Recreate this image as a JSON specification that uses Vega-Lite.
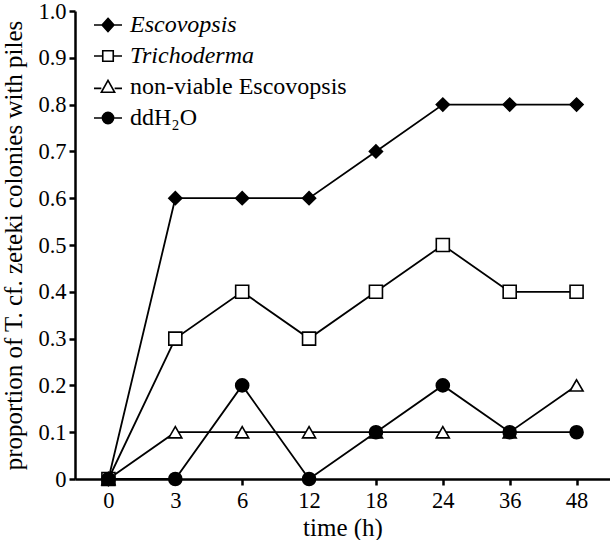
{
  "$schema": "https://vega.github.io/schema/vega-lite/v6.json",
  "width": 535,
  "height": 468,
  "autosize": {"type": "none"},
  "padding": {"left": 75, "top": 11, "right": 0, "bottom": 61},
  "background": "white",
  "config": {
    "view": {"stroke": null},
    "font": "Liberation Serif",
    "axis": {
      "grid": false,
      "domainColor": "black",
      "domainWidth": 2.5,
      "tickColor": "black",
      "tickWidth": 2.5,
      "tickSize": 6,
      "labelFont": "Liberation Serif",
      "labelFontSize": 22.5,
      "labelColor": "black",
      "titleFont": "Liberation Serif",
      "titleFontSize": 25,
      "titleFontWeight": "normal",
      "titleColor": "black"
    }
  },
  "data": {
    "values": [
      {"series": "Escovopsis", "time": "0", "value": 0},
      {"series": "Escovopsis", "time": "3", "value": 0.6},
      {"series": "Escovopsis", "time": "6", "value": 0.6},
      {"series": "Escovopsis", "time": "12", "value": 0.6},
      {"series": "Escovopsis", "time": "18", "value": 0.7},
      {"series": "Escovopsis", "time": "24", "value": 0.8},
      {"series": "Escovopsis", "time": "36", "value": 0.8},
      {"series": "Escovopsis", "time": "48", "value": 0.8},
      {"series": "Trichoderma", "time": "0", "value": 0},
      {"series": "Trichoderma", "time": "3", "value": 0.3},
      {"series": "Trichoderma", "time": "6", "value": 0.4},
      {"series": "Trichoderma", "time": "12", "value": 0.3},
      {"series": "Trichoderma", "time": "18", "value": 0.4},
      {"series": "Trichoderma", "time": "24", "value": 0.5},
      {"series": "Trichoderma", "time": "36", "value": 0.4},
      {"series": "Trichoderma", "time": "48", "value": 0.4},
      {"series": "non-viable Escovopsis", "time": "0", "value": 0},
      {"series": "non-viable Escovopsis", "time": "3", "value": 0.1},
      {"series": "non-viable Escovopsis", "time": "6", "value": 0.1},
      {"series": "non-viable Escovopsis", "time": "12", "value": 0.1},
      {"series": "non-viable Escovopsis", "time": "18", "value": 0.1},
      {"series": "non-viable Escovopsis", "time": "24", "value": 0.1},
      {"series": "non-viable Escovopsis", "time": "36", "value": 0.1},
      {"series": "non-viable Escovopsis", "time": "48", "value": 0.2},
      {"series": "ddH₂O", "time": "0", "value": 0},
      {"series": "ddH₂O", "time": "3", "value": 0},
      {"series": "ddH₂O", "time": "6", "value": 0.2},
      {"series": "ddH₂O", "time": "12", "value": 0},
      {"series": "ddH₂O", "time": "18", "value": 0.1},
      {"series": "ddH₂O", "time": "24", "value": 0.2},
      {"series": "ddH₂O", "time": "36", "value": 0.1},
      {"series": "ddH₂O", "time": "48", "value": 0.1}
    ]
  },
  "encoding": {
    "x": {
      "field": "time",
      "type": "ordinal",
      "sort": ["0", "3", "6", "12", "18", "24", "36", "48"],
      "scale": {"type": "point", "padding": 0.5},
      "axis": {"title": "time (h)", "labelAngle": 0, "labelPadding": 4, "titlePadding": 4}
    },
    "y": {
      "field": "value",
      "type": "quantitative",
      "scale": {"domain": [0, 1], "nice": false},
      "axis": {
        "title": "proportion of T. cf. zeteki colonies with piles",
        "values": [0, 0.1, 0.2, 0.3, 0.4, 0.5, 0.6, 0.7, 0.8, 0.9, 1.0],
        "labelExpr": "datum.value == 0 ? '0' : format(datum.value, '.1f')",
        "labelPadding": 3,
        "titlePadding": 11
      }
    }
  },
  "resolve": {"scale": {"shape": "independent"}, "legend": {"shape": "independent"}},
  "layer": [
    {
      "mark": {"type": "line", "color": "black", "strokeWidth": 1.8},
      "encoding": {"detail": {"field": "series"}}
    },
    {
      "mark": {"type": "point", "stroke": "black", "strokeWidth": 1.6, "opacity": 1, "filled": false, "size": 170},
      "encoding": {
        "shape": {
          "field": "series",
          "type": "nominal",
          "scale": {
            "domain": ["Escovopsis", "Trichoderma", "non-viable Escovopsis", "ddH₂O"],
            "range": ["diamond", "square", "triangle-up", "circle"]
          },
          "legend": null
        },
        "fill": {
          "field": "series",
          "type": "nominal",
          "scale": {
            "domain": ["Escovopsis", "Trichoderma", "non-viable Escovopsis", "ddH₂O"],
            "range": ["black", "white", "white", "black"]
          },
          "legend": null
        }
      }
    },
    {
      "mark": {"type": "point", "stroke": "black", "strokeWidth": 1.6, "opacity": 0, "filled": false, "size": 0},
      "encoding": {
        "shape": {
          "field": "series",
          "type": "nominal",
          "scale": {
            "domain": ["Escovopsis", "Trichoderma", "non-viable Escovopsis", "ddH₂O"],
            "range": [
              "M0,-0.95L0.85,0L0,0.95L-0.85,0Z M-2,0H-0.85 M0.85,0H2",
              "M-0.75,-0.75H0.75V0.75H-0.75Z M-2,0H-0.75 M0.75,0H2",
              "M0,-0.95L0.95,0.75H-0.95Z M-2,0.2H-0.95 M0.95,0.2H2",
              "M-0.8,0A0.8,0.8 0 1,0 0.8,0A0.8,0.8 0 1,0 -0.8,0Z M-2,0H-0.8 M0.8,0H2"
            ]
          },
          "legend": {
            "title": null,
            "orient": "none",
            "legendX": 21,
            "legendY": 2,
            "padding": 0,
            "symbolSize": 196,
            "symbolStrokeWidth": 1.6,
            "symbolStrokeColor": "black",
            "symbolOpacity": 1,
            "labelFont": "Liberation Serif",
            "labelFontSize": 24,
            "labelColor": "black",
            "labelLimit": 0,
            "labelOffset": 10,
            "rowPadding": 7,
            "encoding": {
              "labels": {
                "fontStyle": {"condition": {"test": "datum.label === 'ddH₂O' || datum.label === 'non-viable Escovopsis'", "value": "normal"}, "value": "italic"}
              },
              "symbols": {
                "stroke": {"value": "black"},
                "strokeWidth": {"value": 1.6},
                "opacity": {"value": 1},
                "fill": {"condition": {"test": "datum.value === 'Escovopsis' || datum.value === 'ddH₂O'", "value": "black"}, "value": "white"}
              }
            }
          }
        }
      }
    }
  ]
}
